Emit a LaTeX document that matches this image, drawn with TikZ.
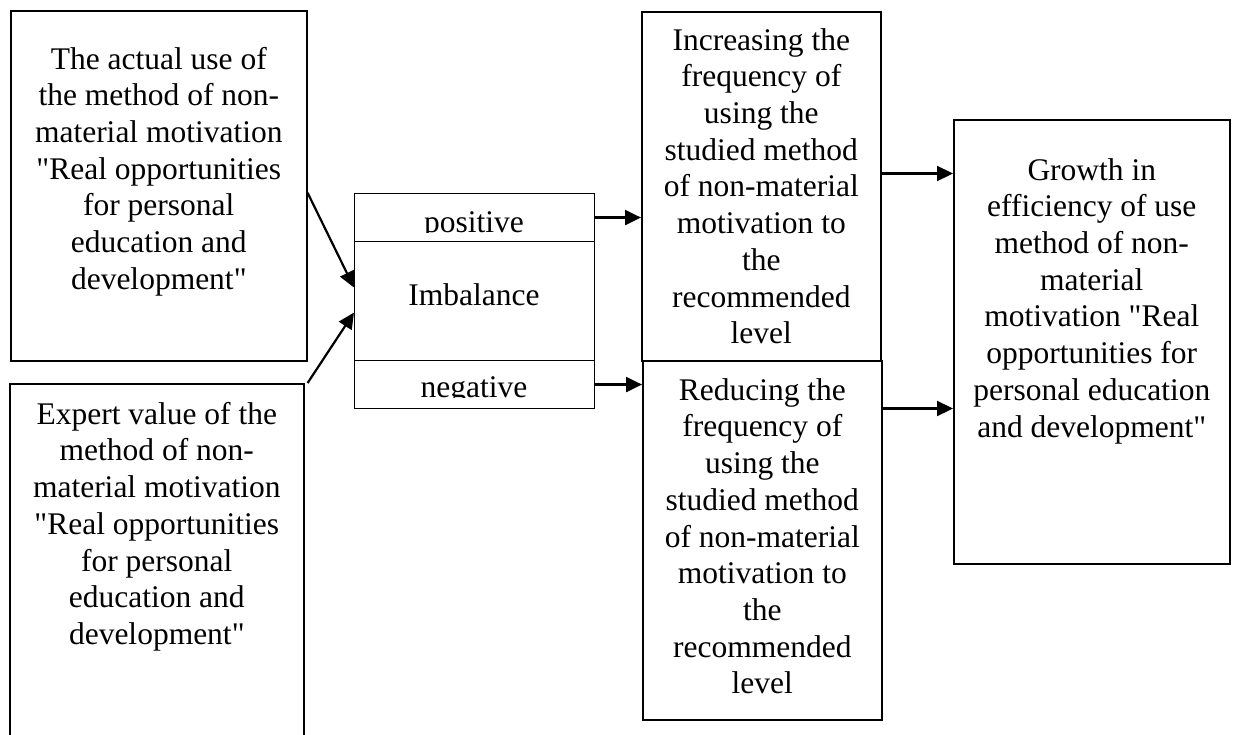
\documentclass[tikz,border=0pt]{standalone}
\usepackage{fontspec}
\setmainfont{Liberation Serif}[Ligatures=TeXOff]
\usetikzlibrary{arrows.meta,calc}

\tikzset{
  frame/.style={draw, line width=1.6pt, inner sep=0pt, anchor=north west},
  cell/.style={draw, line width=1.1pt, inner sep=0pt, anchor=north west,
    minimum width=240pt},
  txt/.style={inner sep=0pt, align=center,
    font=\fontsize{31.5pt}{36.7pt}\selectfont},
  link/.style={line width=2.2pt, -{Triangle[length=16pt,width=15pt]}}
}

\begin{document}
\begin{tikzpicture}[x=1pt, y=-1pt]
  \clip (0,0) rectangle (1239,734);
  \fill[white] (0,0) rectangle (1239,734);

  % input boxes on the left
  \node[frame, minimum width=296pt, minimum height=350pt] (a) at (10,10) {};
  \node[frame, minimum width=294pt, minimum height=377pt] (b) at (9,383) {};

  % imbalance block with its two outcomes
  \node[cell, minimum height=48pt]  (pos) at (354,193) {};
  \node[cell, minimum height=119pt] (imb) at (354,241) {};
  \node[cell, minimum height=48pt]  (neg) at (354,360) {};

  % correction boxes
  \node[frame, minimum width=239pt, minimum height=349pt] (c) at (641,11) {};
  \node[frame, minimum width=239pt, minimum height=359pt] (d) at (642,360) {};

  % result box
  \node[frame, minimum width=276pt, minimum height=444pt] (e) at (953,119) {};

  % texts
  \node[txt, anchor=north] (ta) at ([yshift=-33.3pt]a.north) {\strut The actual use of\\the method of non-\\material motivation\\"Real opportunities\\for personal\\education and\\development"};
  \node[txt, anchor=north] (tb) at ([yshift=-15.3pt]b.north) {\strut Expert value of the\\method of non-\\material motivation\\"Real opportunities\\for personal\\education and\\development"};
  \node[txt, anchor=north] (tc) at ([yshift=-13.3pt]c.north) {\strut Increasing the\\frequency of\\using the\\studied method\\of non-material\\motivation to\\the\\recommended\\level};
  \node[txt, anchor=north] (td) at ([yshift=-14.3pt]d.north) {\strut Reducing the\\frequency of\\using the\\studied method\\of non-material\\motivation to\\the\\recommended\\level};
  \node[txt, anchor=north] (te) at ([yshift=-35.3pt]e.north) {\strut Growth in\\efficiency of use\\method of non-\\material\\motivation "Real\\opportunities for\\personal education\\and development"};

  \node[txt, anchor=base] (timb) at (474,305) {Imbalance};
  \begin{scope}
    \clip (355,194) rectangle (593,232);
    \node[txt, anchor=base] (tpos) at (474,232.5) {positive};
  \end{scope}
  \begin{scope}
    \clip (355,361) rectangle (593,397);
    \node[txt, anchor=base] (tneg) at (474,397.5) {negative};
  \end{scope}

  % connectors
  \draw[link] ([yshift=-7pt]a.east) -- ([yshift=13.5pt]imb.west);
  \draw[link] ([xshift=3pt]b.north east) -- ([yshift=-11.5pt]imb.west);
  \draw[link] (pos.east) -- (pos.east -| c.west);
  \draw[link] (neg.east) -- (neg.east -| d.west);
  \draw[link] ([yshift=12.8pt]c.east) -- ([yshift=12.8pt]c.east -| e.west);
  \draw[link] ([yshift=131.8pt]d.east) -- ([yshift=131.8pt]d.east -| e.west);
\end{tikzpicture}
\end{document}
